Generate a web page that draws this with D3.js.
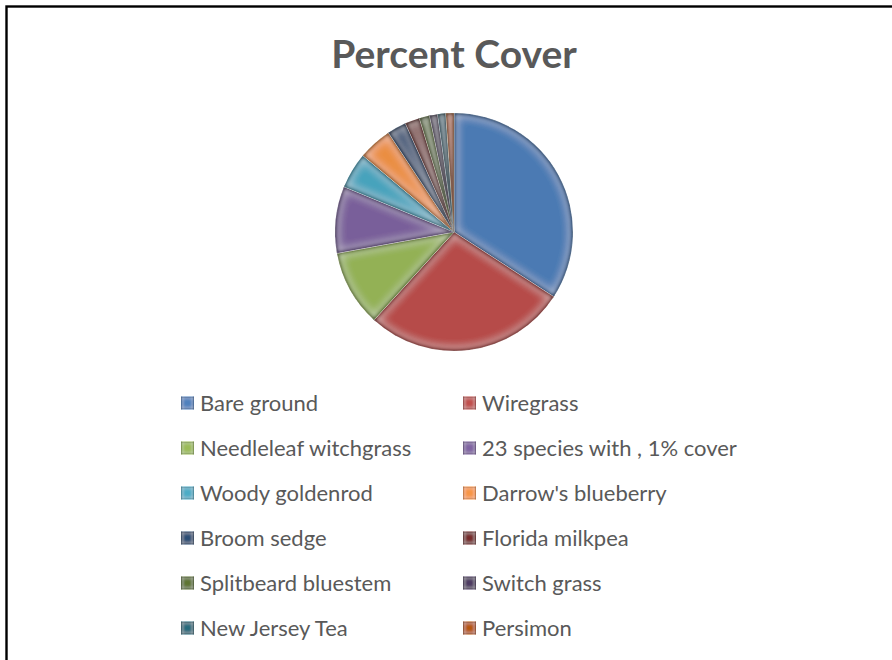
<!DOCTYPE html>
<html>
<head>
<meta charset="utf-8">
<script src="https://cdn.jsdelivr.net/npm/d3@7"></script>
<style>
  html, body { margin: 0; padding: 0; background: #fff; }
  svg { display: block; }
</style>
</head>
<body>
<svg id="chart" width="892" height="660"></svg>
<script>
// Percent cover by ground-cover category
const categories = [
  "Bare ground", "Wiregrass", "Needleleaf witchgrass", "23 species with , 1% cover",
  "Woody goldenrod", "Darrow's blueberry", "Broom sedge", "Florida milkpea",
  "Splitbeard bluestem", "Switch grass", "New Jersey Tea", "Persimon"
];
const coverValues = [34.2, 27.6, 10.4, 9.1, 4.9, 4.6, 2.6, 2.0, 1.4, 1.1, 1.1, 1.1];
const sliceColors = [
  "#4F81BD", "#C0504D", "#9BBB59", "#8064A2", "#4BACC6", "#F79646",
  "#2C4D75", "#772C2A", "#5F7530", "#4D3B62", "#276A7C", "#B65708"
];
const titleText = "Percent Cover";

const svg = d3.select("#chart");

// frame (only top and left edges fall inside the view)
svg.append("rect")
  .attr("x", 6.5).attr("y", 6.5)
  .attr("width", 1000).attr("height", 1000)
  .attr("fill", "none").attr("stroke", "#000").attr("stroke-width", 2.4);

// bevel filters: darkened rim, a light band just inside it
const defs = svg.append("defs");
function bevel(id, blur, darkness, shine) {
  const f = defs.append("filter").attr("id", id)
    .attr("x", "-10%").attr("y", "-10%").attr("width", "120%").attr("height", "120%");
  f.append("feGaussianBlur").attr("in", "SourceAlpha").attr("stdDeviation", blur).attr("result", "b1");
  f.append("feGaussianBlur").attr("in", "SourceAlpha").attr("stdDeviation", blur * 2.2).attr("result", "b2");
  f.append("feComposite").attr("in", "SourceAlpha").attr("in2", "b1")
    .attr("operator", "arithmetic").attr("k2", 2.4).attr("k3", -2.4).attr("result", "rim");
  f.append("feFlood").attr("flood-color", "#000").attr("flood-opacity", darkness).attr("result", "black");
  f.append("feComposite").attr("in", "black").attr("in2", "rim").attr("operator", "in").attr("result", "dark");
  f.append("feComposite").attr("in", "b1").attr("in2", "b2")
    .attr("operator", "arithmetic").attr("k2", 2.5).attr("k3", -2.5).attr("result", "band0");
  f.append("feComposite").attr("in", "band0").attr("in2", "SourceAlpha").attr("operator", "in").attr("result", "band");
  f.append("feFlood").attr("flood-color", "#fff").attr("flood-opacity", shine).attr("result", "white");
  f.append("feComposite").attr("in", "white").attr("in2", "band").attr("operator", "in").attr("result", "light");
  const m = f.append("feMerge");
  m.append("feMergeNode").attr("in", "SourceGraphic");
  m.append("feMergeNode").attr("in", "light");
  m.append("feMergeNode").attr("in", "dark");
}
bevel("bevelPie", 2.6, 0.6, 0.28);
bevel("bevelKey", 1.0, 0.5, 0.35);

// title
svg.append("text")
  .attr("x", 454).attr("y", 68)
  .attr("text-anchor", "middle")
  .attr("font-family", "Lato, 'Open Sans', sans-serif")
  .attr("font-weight", "bold").attr("font-size", 39)
  .attr("fill", "#595959")
  .text(titleText);

// pie
const cx = 454, cy = 232, R = 119;
const pie = d3.pie().sort(null).value(d => d)(coverValues);
const arc = d3.arc().innerRadius(0).outerRadius(R);
const color = d3.scaleOrdinal().domain(categories).range(sliceColors);

const g = svg.append("g").attr("transform", `translate(${cx},${cy})`);
g.selectAll("path.slice")
  .data(pie)
  .join("path")
  .attr("class", "slice")
  .attr("d", arc)
  .attr("fill", (d, i) => d3.color(color(categories[i])).darker(0.15))
  .attr("stroke", "#ffffff")
  .attr("stroke-opacity", 0.6)
  .attr("stroke-width", 0.8)
  .attr("filter", "url(#bevelPie)");

// legend, two columns
const legendX = [181, 463], legendY0 = 403, rowGap = 45, key = 13;
const items = svg.append("g").selectAll("g")
  .data(categories)
  .join("g")
  .attr("transform", (d, i) => `translate(${legendX[i % 2]},${legendY0 + Math.floor(i / 2) * rowGap})`);
items.append("rect")
  .attr("x", 0).attr("y", -key / 2)
  .attr("width", key).attr("height", key)
  .attr("fill", d => color(d))
  .attr("filter", "url(#bevelKey)");
items.append("text")
  .attr("x", 19).attr("y", 0).attr("dy", "0.35em")
  .attr("font-family", "Lato, 'Open Sans', sans-serif")
  .attr("font-size", 22)
  .attr("fill", "#595959")
  .text(d => d);
</script>
</body>
</html>
